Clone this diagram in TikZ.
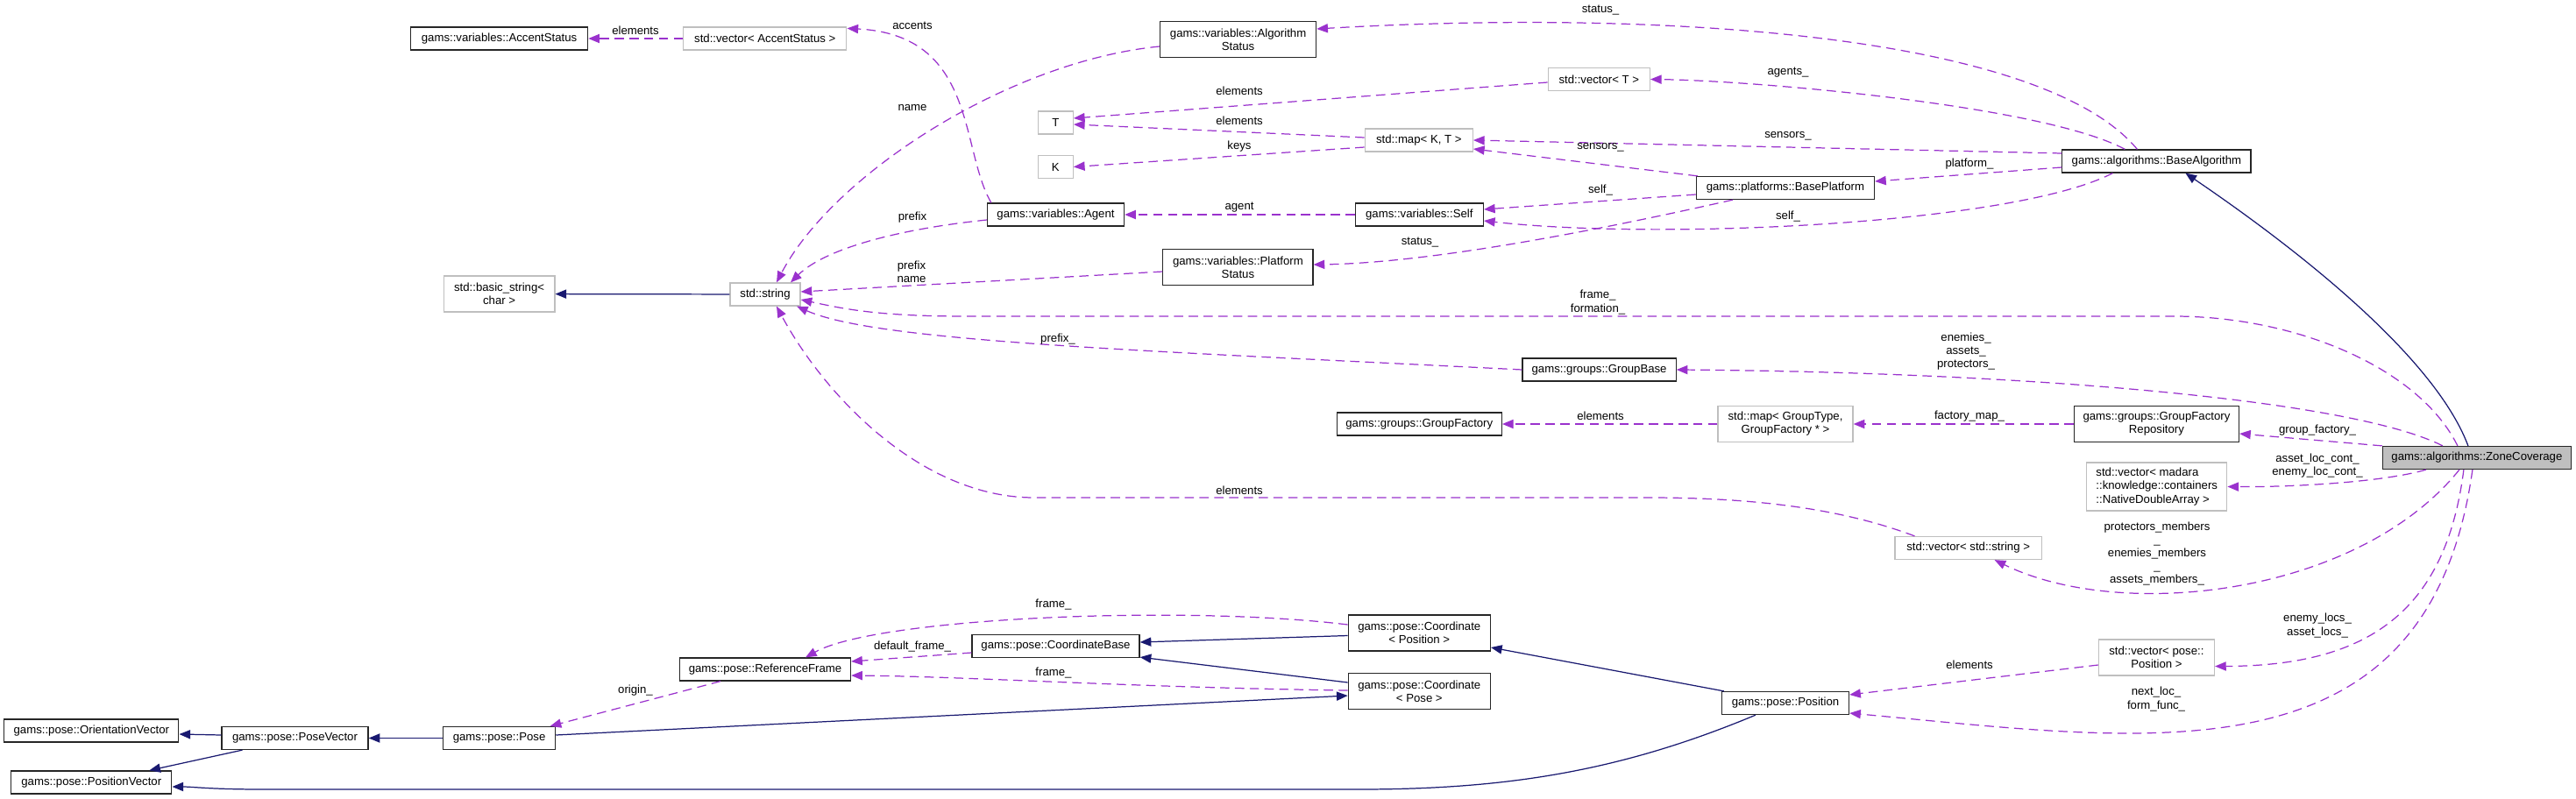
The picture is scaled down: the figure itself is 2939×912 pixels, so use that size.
\documentclass[tikz,border=0pt]{standalone}
\usepackage{fontspec}
\setmainfont{Liberation Sans}
\usepackage{xcolor}
\usepackage{tikz}
\usetikzlibrary{arrows.meta, positioning}
\definecolor{usepurple}{RGB}{154,50,205}
\definecolor{inhnavy}{RGB}{25,25,112}
\definecolor{boxgray}{RGB}{191,191,191}
\newcommand{\dxfont}{\fontsize{3.75}{4.3}\selectfont}
\tikzset{
  cls/.style={
    rectangle, draw=black!85, line width=0.35pt, inner sep=0pt,
    font=\dxfont, align=center, text=black
  },
  tmpl/.style={cls, draw=boxgray},
  focus/.style={cls, fill=boxgray},
  h1/.style={minimum height=0.26cm},
  h2/.style={minimum height=0.41cm},
  h3/.style={minimum height=0.55cm},
  uses/.style={-{Triangle[length=3.6pt, width=2.9pt]}, line width=0.35pt,
    dash pattern=on 3pt off 1.8pt, color=usepurple},
  inherit/.style={-{Triangle[length=3.6pt, width=2.9pt]}, line width=0.35pt,
    color=inhnavy},
  lbl/.style={font=\dxfont, inner sep=0pt, align=center, text=black}
}

\begin{document}
\begin{tikzpicture}[x=0.01cm, y=-0.01cm]
  \useasboundingbox (0,0) rectangle (2939,912);

  % Classes
  \node[cls, h1, minimum width=2.02cm] (accst) at (569.6,44) {gams::variables::AccentStatus};
  \node[tmpl, h1, minimum width=1.86cm] (vecacc) at (872.8,44) {std::vector< AccentStatus >};
  \node[cls, h2, minimum width=1.78cm] (algst) at (1412.6,45) {gams::variables::Algorithm\\Status};
  \node[tmpl, h1, minimum width=1.16cm] (vect) at (1824.3,90.5) {std::vector< T >};
  \node[tmpl, h1, minimum width=0.40cm] (tt) at (1204.3,140) {T};
  \node[tmpl, h1, minimum width=0.40cm] (kk) at (1204.3,190.5) {K};
  \node[tmpl, h1, minimum width=1.23cm] (mapkt) at (1618.8,160) {std::map< K, T >};
  \node[cls, h1, minimum width=2.03cm] (platf) at (2036.9,214.5) {gams::platforms::BasePlatform};
  \node[cls, h1, minimum width=1.46cm] (self) at (1619.3,245) {gams::variables::Self};
  \node[cls, h1, minimum width=1.56cm] (agent) at (1204.5,245) {gams::variables::Agent};
  \node[cls, h2, minimum width=1.71cm] (platst) at (1412.4,305) {gams::variables::Platform\\Status};
  \node[cls, h1, minimum width=2.15cm] (basealg) at (2460.4,184) {gams::algorithms::BaseAlgorithm};
  \node[tmpl, h2, minimum width=1.265cm] (bstr) at (569.6,335.5) {std::basic\_string<\\char >};
  \node[tmpl, h1, minimum width=0.80cm] (str) at (873,336) {std::string};
  \node[cls, h1, minimum width=1.75cm] (grpbase) at (1824.6,422) {gams::groups::GroupBase};
  \node[cls, h1, minimum width=1.88cm] (grpfac) at (1619.3,484) {gams::groups::GroupFactory};
  \node[tmpl, h2, minimum width=1.54cm] (mapgt) at (2037,484) {std::map< GroupType,\\GroupFactory * >};
  \node[cls, h2, minimum width=1.88cm] (facrepo) at (2460.4,484) {gams::groups::GroupFactory\\Repository};
  \node[focus, h1, minimum width=2.15cm] (zone) at (2825.9,522.5) {gams::algorithms::ZoneCoverage};
  \node[tmpl, h3, minimum width=1.60cm, align=left] (nda) at (2460.7,555.5)
    {std::vector< madara\\::knowledge::containers\\::NativeDoubleArray >};
  \node[tmpl, h1, minimum width=1.67cm] (vecstr) at (2245.6,625.5) {std::vector< std::string >};
  \node[tmpl, h2, minimum width=1.32cm] (vecpos) at (2460.4,750.5) {std::vector< pose::\\Position >};
  \node[cls, h1, minimum width=1.45cm] (pos) at (2037,802.5) {gams::pose::Position};
  \node[cls, h2, minimum width=1.62cm] (crdpos) at (1619.3,722.5) {gams::pose::Coordinate\\< Position >};
  \node[cls, h2, minimum width=1.62cm] (crdpose) at (1619.3,789) {gams::pose::Coordinate\\< Pose >};
  \node[cls, h1, minimum width=1.91cm] (crdbase) at (1204.5,737.5) {gams::pose::CoordinateBase};
  \node[cls, h1, minimum width=1.95cm] (refframe) at (873,764) {gams::pose::ReferenceFrame};
  \node[cls, h1, minimum width=1.28cm] (pose) at (569.6,842.5) {gams::pose::Pose};
  \node[cls, h1, minimum width=1.67cm] (posevec) at (336.5,842.5) {gams::pose::PoseVector};
  \node[cls, h1, minimum width=1.99cm] (orivec) at (104.3,834) {gams::pose::OrientationVector};
  \node[cls, h1, minimum width=1.83cm] (posvec) at (104.3,893) {gams::pose::PositionVector};

  % Usage relations (top)
  \draw[uses] (vecacc) -- (accst) node[lbl] at (725,35) {elements};
  \draw[uses] ([xshift=0.05cm]agent.north west) .. controls (1095,170) and (1115,40) ..
    ([yshift=-0.02cm]vecacc.north east) node[lbl] at (1041,29) {accents};
  \draw[uses] ([yshift=-0.08cm]algst.west) .. controls (1150,70) and (950,200) ..
    ([xshift=0.13cm]str.north) node[lbl] at (1041,123) {name};
  \draw[uses] ([yshift=-0.06cm]agent.west) .. controls (1020,262) and (940,285) ..
    ([xshift=0.29cm]str.north) node[lbl] at (1041,248) {prefix};
  \draw[uses] ([yshift=-0.05cm]platst.west) -- ([yshift=0.03cm]str.east)
    node[lbl] at (1040,310) {prefix\\name};
  \draw[uses] ([xshift=-0.22cm]zone.north) .. controls (2760,420) and (2620,361) .. (2480,361)
    -- (1100,361) .. controls (1000,361) and (960,352) .. ([yshift=-0.06cm]str.east)
    node[lbl] at (1823,345) {frame\_\\formation\_};
  \draw[uses] (grpbase.west) .. controls (1300,400) and (1000,390) ..
    ([xshift=0.36cm]str.south) node[lbl] at (1207,387) {prefix\_};
  \draw[uses] ([xshift=0.23cm]vecstr.north west) .. controls (2100,580) and (2000,568) .. (1880,568)
    -- (1180,568) .. controls (1050,568) and (940,450) .. ([xshift=0.13cm]str.south)
    node[lbl] at (1414,560) {elements};
  \draw[inherit] (str) -- (bstr);

  % Base algorithm members
  \draw[uses] ([xshift=-0.22cm]basealg.north) .. controls (2330,40) and (1900,10) ..
    ([yshift=0.12cm]algst.east) node[lbl] at (1826,12) {status\_};
  \draw[uses] ([xshift=-0.36cm]basealg.north) .. controls (2330,120) and (2000,92) ..
    (vect.east) node[lbl] at (2040,83) {agents\_};
  \draw[uses] ([yshift=-0.035cm]vect.west) -- ([yshift=0.05cm]tt.east)
    node[lbl] at (1414,104) {elements};
  \draw[uses] ([yshift=0.03cm]mapkt.west) -- ([yshift=-0.02cm]tt.east)
    node[lbl] at (1414,138) {elements};
  \draw[uses] ([yshift=-0.08cm]mapkt.west) -- (kk.east)
    node[lbl] at (1414,167) {keys};
  \draw[uses] ([yshift=0.09cm]basealg.west) -- (mapkt.east)
    node[lbl] at (2040,155) {sensors\_};
  \draw[uses] ([xshift=0.02cm]platf.north west) -- ([yshift=-0.1cm]mapkt.east)
    node[lbl] at (1826,168) {sensors\_};
  \draw[uses] ([yshift=-0.07cm]basealg.west) -- ([yshift=0.075cm]platf.east)
    node[lbl] at (2247,187) {platform\_};
  \draw[uses] ([yshift=-0.075cm]platf.west) -- ([yshift=0.06cm]self.east)
    node[lbl] at (1826,217) {self\_};
  \draw[uses] ([xshift=-0.5cm]basealg.south) .. controls (2300,255) and (1900,275) ..
    ([yshift=-0.07cm]self.east) node[lbl] at (2040,247) {self\_};
  \draw[uses] (self) -- (agent) node[lbl] at (1414,237) {agent};
  \draw[uses] ([xshift=-0.6cm]platf.south) .. controls (1880,250) and (1650,300) ..
    ([yshift=0.03cm]platst.east) node[lbl] at (1620,277) {status\_};

  % Zone coverage members
  \draw[inherit] ([xshift=-0.1cm]zone.north) .. controls (2775,400) and (2600,270) ..
    ([xshift=0.33cm]basealg.south);
  \draw[uses] ([xshift=-0.39cm]zone.north) .. controls (2680,455) and (2300,425) ..
    (grpbase.east) node[lbl] at (2243,401) {enemies\_\\assets\_\\protectors\_};
  \draw[uses] (facrepo) -- (mapgt) node[lbl] at (2247,475) {factory\_map\_};
  \draw[uses] (mapgt) -- (grpfac) node[lbl] at (1826,475) {elements};
  \draw[uses] (zone.north west) -- ([yshift=-0.11cm]facrepo.east)
    node[lbl] at (2644,491) {group\_factory\_};
  \draw[uses] ([xshift=-0.58cm]zone.south) .. controls (2720,550) and (2620,556) ..
    (nda.east) node[lbl] at (2644,532) {asset\_loc\_cont\_\\enemy\_loc\_cont\_};
  \draw[uses] ([xshift=-0.2cm]zone.south) .. controls (2690,680) and (2420,710) ..
    ([xshift=0.3cm]vecstr.south)
    node[lbl] at (2461,632) {protectors\_members\\\_\\enemies\_members\\\_\\assets\_members\_};
  \draw[uses] ([xshift=-0.15cm]zone.south) .. controls (2790,700) and (2700,760) ..
    ([yshift=-0.1cm]vecpos.east) node[lbl] at (2644,714) {enemy\_locs\_\\asset\_locs\_};
  \draw[uses] ([xshift=-0.05cm]zone.south) .. controls (2770,900) and (2450,845) ..
    ([yshift=-0.115cm]pos.east) node[lbl] at (2460,798) {next\_loc\_\\form\_func\_};
  \draw[uses] ([yshift=-0.085cm]vecpos.west) -- ([yshift=0.095cm]pos.east)
    node[lbl] at (2247,759) {elements};

  % Pose hierarchy
  \draw[inherit] ([xshift=0.03cm]pos.north west) -- ([yshift=-0.165cm]crdpos.east);
  \draw[inherit] ([xshift=-0.34cm]pos.south) .. controls (1850,880) and (1720,901) .. (1550,901)
    -- (300,901) .. controls (240,901) and (220,898) .. ([yshift=-0.05cm]posvec.east);
  \draw[inherit] ([yshift=-0.03cm]crdpos.west) -- ([yshift=0.045cm]crdbase.east);
  \draw[inherit] ([yshift=0.1cm]crdpose.west) -- ([yshift=0.01cm]crdbase.south east);
  \draw[uses] ([yshift=0.095cm]crdpos.west) .. controls (1350,690) and (1000,705) ..
    ([xshift=0.46cm]refframe.north) node[lbl] at (1202,690) {frame\_};
  \draw[uses] ([yshift=0.01cm]crdpose.west) .. controls (1300,785) and (1100,772) ..
    ([yshift=-0.07cm]refframe.east) node[lbl] at (1202,768) {frame\_};
  \draw[uses] ([yshift=-0.075cm]crdbase.west) -- ([yshift=0.09cm]refframe.east)
    node[lbl] at (1041,738) {default\_frame\_};
  \draw[uses] ([xshift=-0.51cm]refframe.south) -- ([xshift=0.58cm]pose.north)
    node[lbl] at (725,788) {origin\_};
  \draw[inherit] ([yshift=0.035cm]pose.east) -- ([yshift=-0.05cm]crdpose.west);
  \draw[inherit] (pose) -- (posevec);
  \draw[inherit] ([yshift=0.035cm]posevec.west) -- ([yshift=-0.04cm]orivec.east);
  \draw[inherit] ([xshift=-0.6cm]posevec.south) -- ([xshift=0.66cm]posvec.north);
\end{tikzpicture}
\end{document}
